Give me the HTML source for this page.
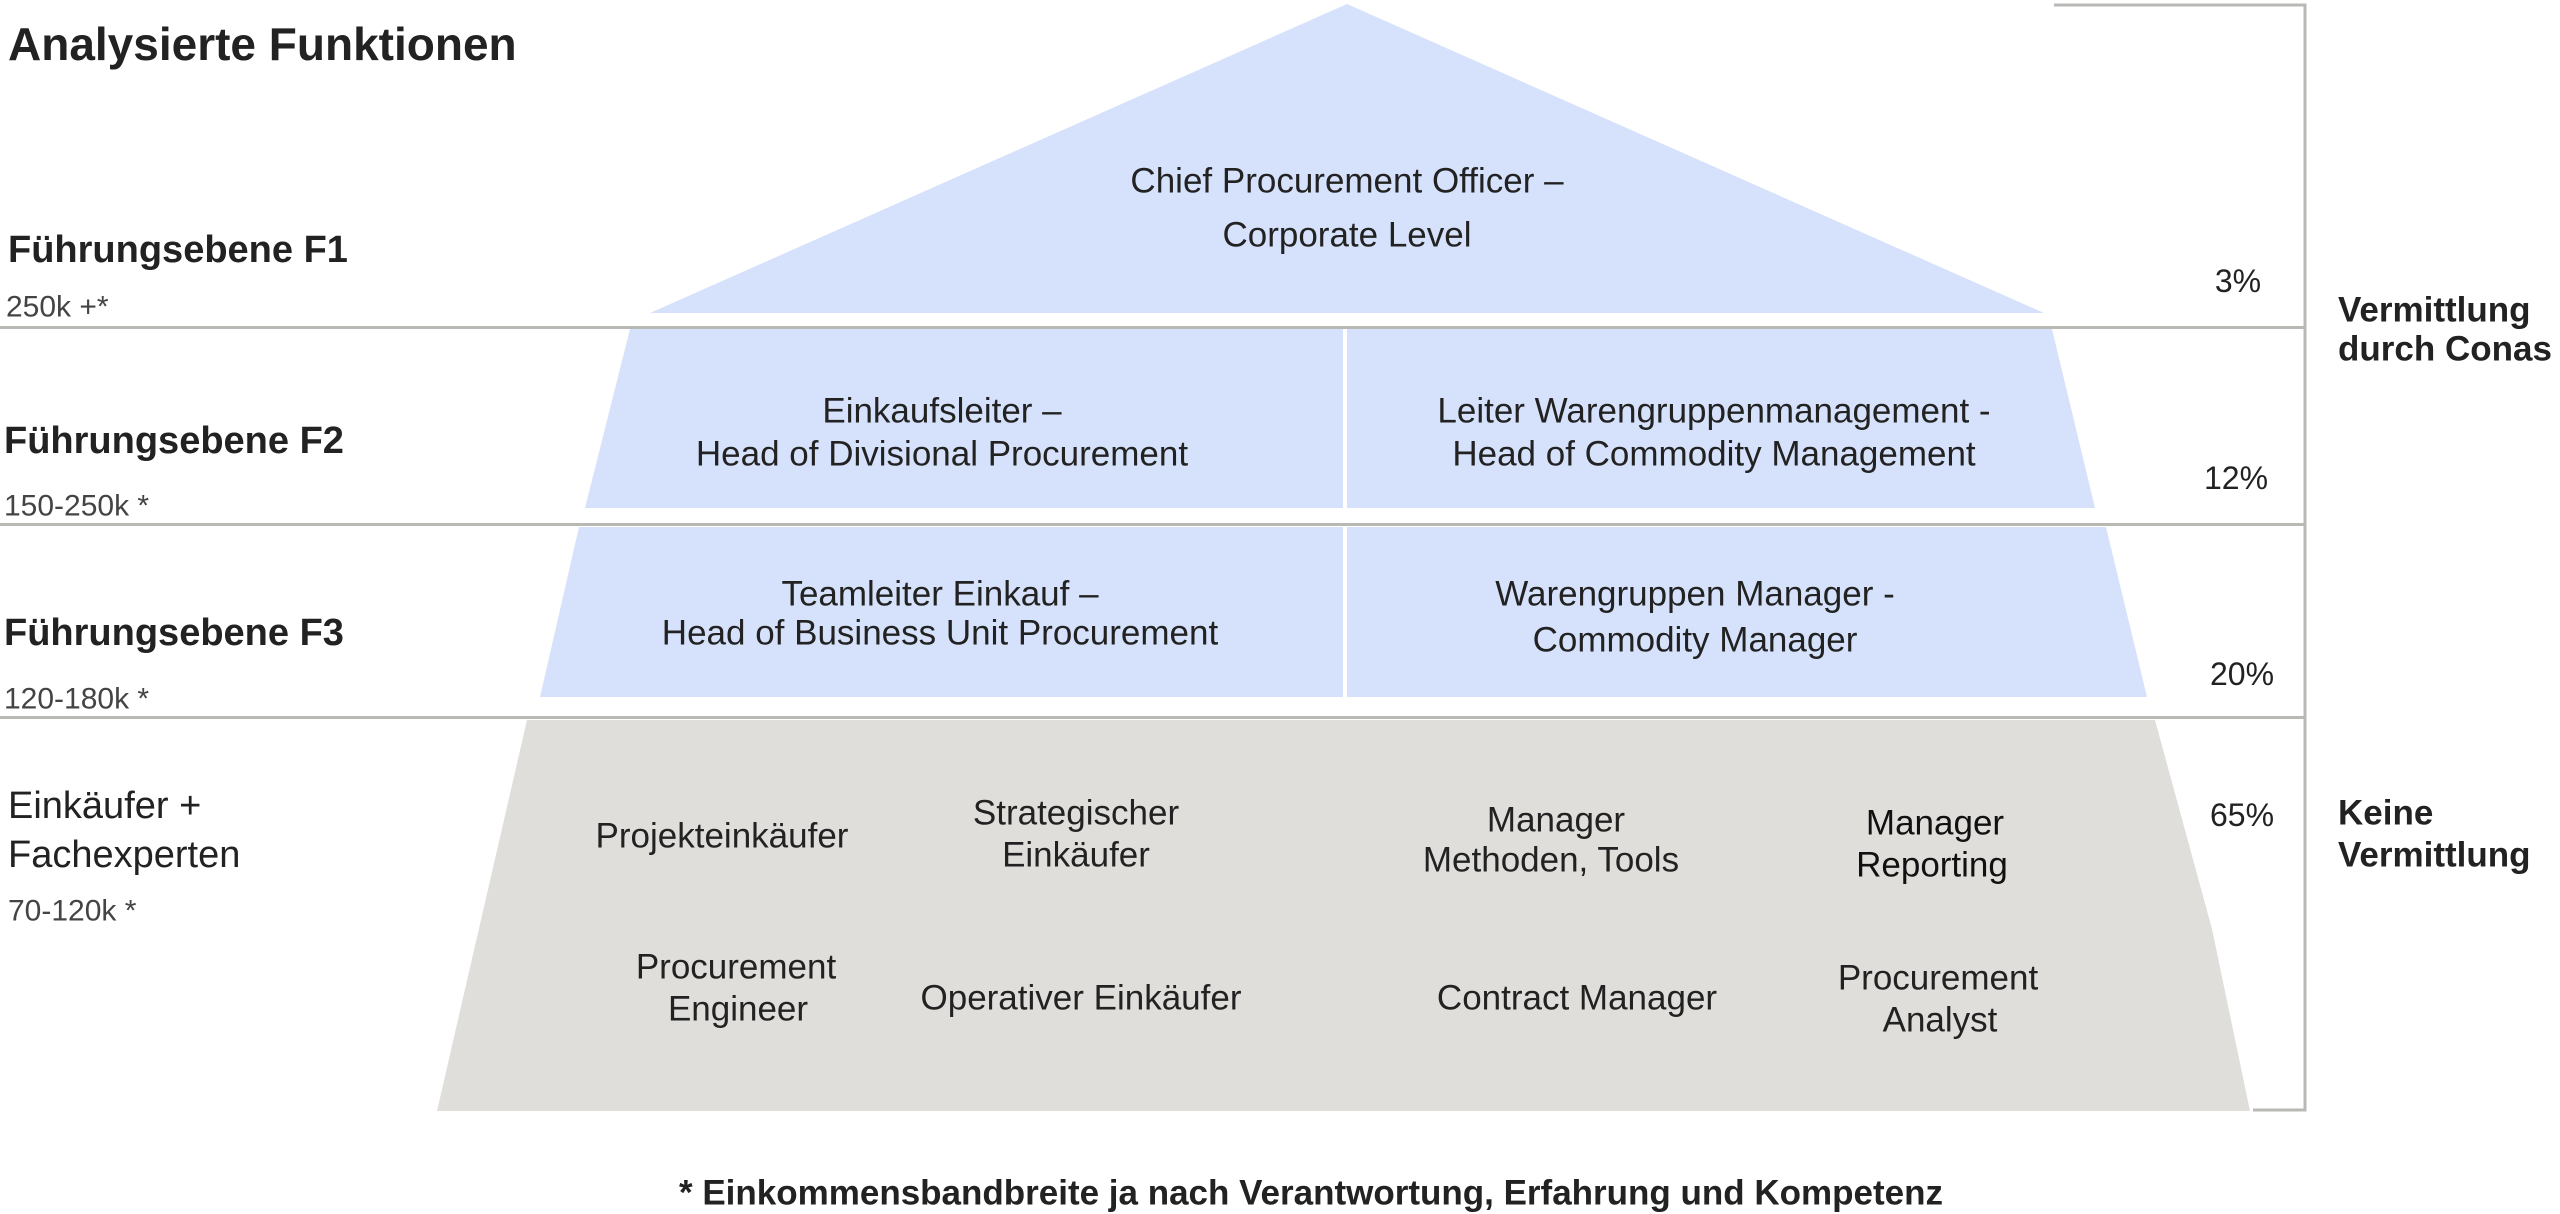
<!DOCTYPE html>
<html><head><meta charset="utf-8"><style>
html,body{margin:0;padding:0;background:#fff;}
svg{display:block;}
text{font-family:"Liberation Sans",Arial,sans-serif;fill:#222;}
.c{text-anchor:middle;dominant-baseline:central;font-size:35px;}
.l{dominant-baseline:central;}
.b{font-weight:bold;}
</style></head><body>
<svg width="2560" height="1214" viewBox="0 0 2560 1214" xmlns="http://www.w3.org/2000/svg">
<rect width="2560" height="1214" fill="#fff"/>
<polygon points="1347,4 2044,313 650,313" fill="#d6e2fb"/>
<polygon points="630,329 2052,329 2095,508 585,508" fill="#d6e2fb"/>
<polygon points="579,527 2106,527 2147,697 540,697" fill="#d6e2fb"/>
<polygon points="527,720 2155,720 2212,929 2250,1111 437,1111" fill="#dfdedb"/>
<rect x="1343" y="329" width="4" height="179" fill="#fff"/>
<rect x="1343" y="527" width="4" height="170" fill="#fff"/>
<rect x="0" y="326" width="2305" height="3" fill="#b8b8b4"/>
<rect x="0" y="523" width="2305" height="3" fill="#b8b8b4"/>
<rect x="0" y="716" width="2305" height="3" fill="#b8b8b4"/>
<polyline points="2054,5 2305,5 2305,1110 2253,1110" fill="none" stroke="#b8b8b4" stroke-width="3"/>
<text x="8" y="44" class="l b" font-size="46">Analysierte Funktionen</text>
<text x="8" y="250" class="l b" font-size="38">Führungsebene F1</text>
<text x="6" y="307" class="l" font-size="30" style="fill:#444">250k +*</text>
<text x="4" y="441" class="l b" font-size="38">Führungsebene F2</text>
<text x="4" y="506" class="l" font-size="30" style="fill:#444">150-250k *</text>
<text x="4" y="633" class="l b" font-size="38">Führungsebene F3</text>
<text x="4" y="699" class="l" font-size="30" style="fill:#444">120-180k *</text>
<text x="8" y="806" class="l" font-size="38">Einkäufer +</text>
<text x="8" y="855" class="l" font-size="38">Fachexperten</text>
<text x="8" y="911" class="l" font-size="30" style="fill:#444">70-120k *</text>
<text x="1347" y="181" class="c">Chief Procurement Officer –</text>
<text x="1347" y="235" class="c">Corporate Level</text>
<text x="942" y="411" class="c">Einkaufsleiter –</text>
<text x="942" y="454" class="c">Head of Divisional Procurement</text>
<text x="1714" y="411" class="c">Leiter Warengruppenmanagement -</text>
<text x="1714" y="454" class="c">Head of Commodity Management</text>
<text x="940" y="594" class="c">Teamleiter Einkauf –</text>
<text x="940" y="633" class="c">Head of Business Unit Procurement</text>
<text x="1695" y="594" class="c">Warengruppen Manager -</text>
<text x="1695" y="640" class="c">Commodity Manager</text>
<text x="722" y="836" class="c">Projekteinkäufer</text>
<text x="1076" y="813" class="c">Strategischer</text>
<text x="1076" y="855" class="c">Einkäufer</text>
<text x="1556" y="820" class="c">Manager</text>
<text x="1551" y="860" class="c">Methoden, Tools</text>
<text x="1935" y="823" class="c" style="fill:#111">Manager</text>
<text x="1932" y="865" class="c" style="fill:#111">Reporting</text>
<text x="736" y="967" class="c">Procurement</text>
<text x="738" y="1009" class="c">Engineer</text>
<text x="1081" y="998" class="c">Operativer Einkäufer</text>
<text x="1577" y="998" class="c">Contract Manager</text>
<text x="1938" y="978" class="c">Procurement</text>
<text x="1940" y="1020" class="c">Analyst</text>
<text x="2238" y="281" class="c" style="font-size:32px">3%</text>
<text x="2236" y="478" class="c" style="font-size:32px">12%</text>
<text x="2242" y="674" class="c" style="font-size:32px">20%</text>
<text x="2242" y="815" class="c" style="font-size:32px">65%</text>
<text x="2338" y="310" class="l b" font-size="35">Vermittlung</text>
<text x="2338" y="349" class="l b" font-size="35">durch Conas</text>
<text x="2338" y="813" class="l b" font-size="35">Keine</text>
<text x="2338" y="855" class="l b" font-size="35">Vermittlung</text>
<text x="1311" y="1193" class="c b" style="font-size:35px">* Einkommensbandbreite ja nach Verantwortung, Erfahrung und Kompetenz</text>
</svg>
</body></html>
